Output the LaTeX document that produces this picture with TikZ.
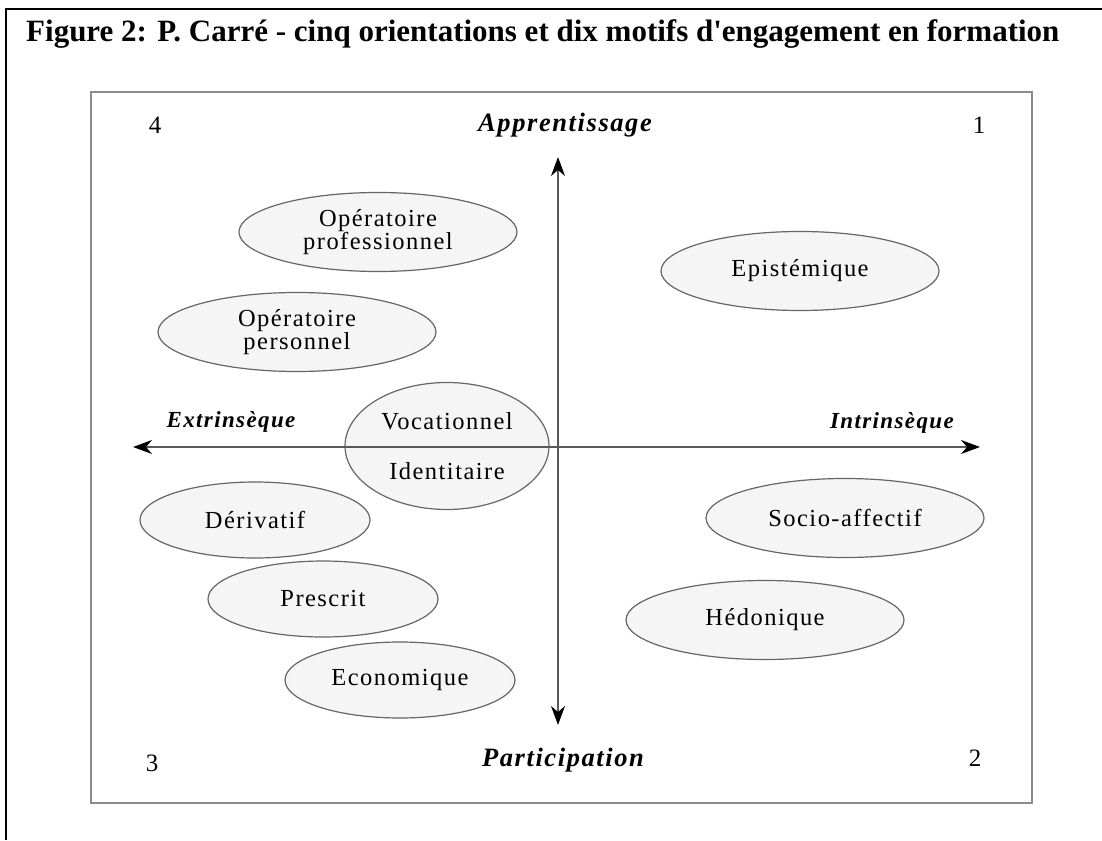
\documentclass[tikz,border=0pt]{standalone}
\usepackage{fontspec}
\setmainfont{Liberation Serif}
\newfontfamily\motiffont[LetterSpace=6]{Liberation Serif}
\usetikzlibrary{shapes, arrows.meta, positioning}
\def\motifwidth{278pt}
\def\motifheight{79pt}
\def\smallwidth{230pt}
\def\smallheight{76pt}

\begin{document}
\begin{tikzpicture}[x=1pt, y=-1pt,
  motif/.style={ellipse, draw=black!60, line width=1.2pt, fill=black!4, inner sep=0pt, minimum width=\motifwidth, minimum height=\motifheight, align=center, font=\motiffont\fontsize{24.5}{23}\selectfont},
  smallmotif/.style={motif, minimum width=\smallwidth, minimum height=\smallheight},
  axis/.style={line width=1.5pt, draw=black!65, {Stealth[length=19pt, width=14pt, inset=6pt, color=black]}-{Stealth[length=19pt, width=14pt, inset=6pt, color=black]}},
  pole/.style={inner sep=0pt, font=\motiffont\bfseries\itshape\fontsize{26.5}{28}\selectfont},
  quadrant/.style={inner sep=0pt, font=\motiffont\fontsize{25}{26}\selectfont}]
\useasboundingbox (0,0) rectangle (1102,840);

\draw[line width=2pt] (6,840) -- (6,9) -- (1102,9);
\node (title) [anchor=base west, inner sep=0pt, font=\bfseries\fontsize{31}{34}\selectfont] at (26,42) {Figure 2: P. Carré - cinq orientations et dix motifs d\textquotesingle engagement en formation};

\draw[draw=black!45, line width=2pt] (91,92) rectangle (1032,803);

\node (opro) [motif] at (378,232) {Opératoire\\professionnel};
\node (oper) [motif] at (297,332) {Opératoire\\personnel};
\node (epist) [motif] at (800,271) {Epistémique};
\node (voc) [motif, minimum width=204pt, minimum height=127pt] at (447,446) {Vocationnel\\[27pt]Identitaire};
\node (deriv) [smallmotif] at (255,520) {Dérivatif};
\node (presc) [smallmotif] at (323,599) {Prescrit};
\node (econ) [smallmotif] at (400,680) {Economique};
\node (socio) [motif] at (845,518) {Socio-affectif};
\node (hedo) [motif] at (765,620) {Hédonique};

\coordinate (north) at (558,157);
\coordinate (south) at (558,725);
\coordinate (west) at (133,447);
\coordinate (east) at (980,447);
\draw[axis] (south) -- (north);
\draw[axis] (west) -- (east);

\node (appr) [pole] at (565,125) {Apprentissage};
\node (part) [pole] at (563,760) {Participation};
\node (extr) [pole, font=\motiffont\bfseries\itshape\fontsize{23}{24}\selectfont] at (231,422) {Extrinsèque};
\node (intr) [pole, font=\motiffont\bfseries\itshape\fontsize{23}{24}\selectfont] at (892,423) {Intrinsèque};

\node (q4) [quadrant] at (155,125) {4};
\node (q1) [quadrant] at (979,125) {1};
\node (q3) [quadrant] at (152,763) {3};
\node (q2) [quadrant] at (975,758) {2};

\end{tikzpicture}
\end{document}
